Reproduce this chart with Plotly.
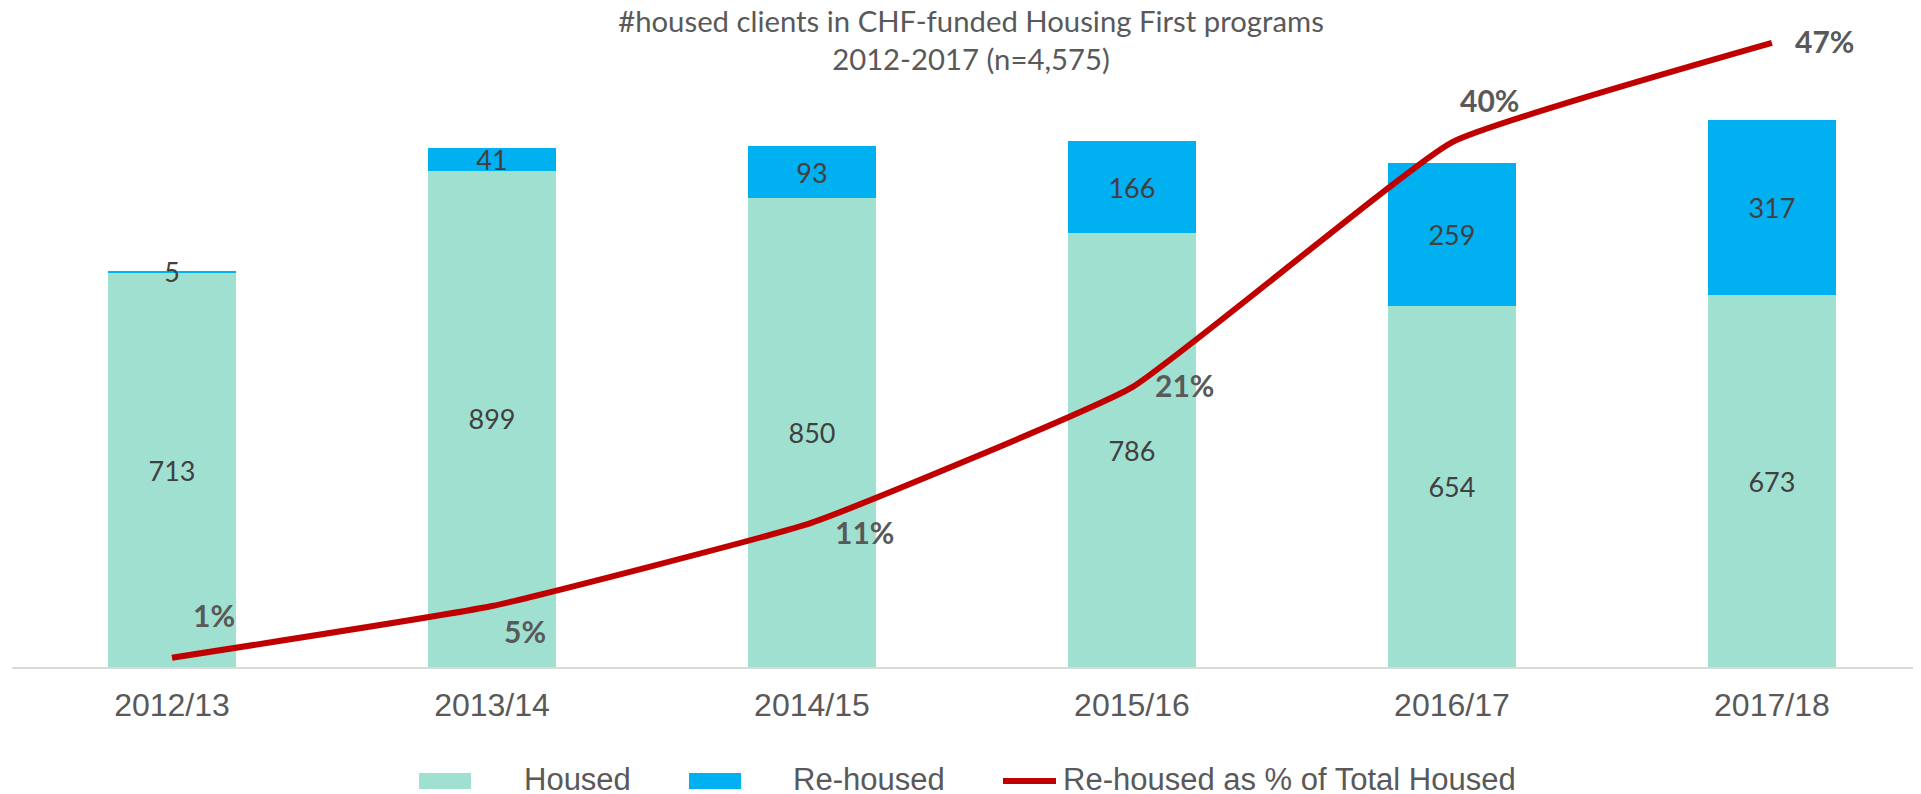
import plotly.graph_objects as go

# ---- data ----
categories = ["2012/13", "2013/14", "2014/15", "2015/16", "2016/17", "2017/18"]
housed = [713, 899, 850, 786, 654, 673]
rehoused = [5, 41, 93, 166, 259, 317]
rehoused_pct = [0.007, 0.046, 0.109, 0.211, 0.396, 0.471]
pct_labels = ["1%", "5%", "11%", "21%", "40%", "47%"]

title_text = "#housed clients in CHF-funded Housing First programs<br>2012-2017 (n=4,575)"
legend_names = ["Housed", "Re-housed", "Re-housed as % of Total Housed"]

# ---- style ----
C_HOUSED = "#A0E0D1"
C_REHOUSED = "#00B0F0"
C_LINE = "#C00000"
C_TEXT = "#595959"
C_VAL = "#404040"
CAL = "Lato, Carlito, Calibri, sans-serif"
ARIAL = "Liberation Sans, Arial, sans-serif"
# label offsets (px) for the percentage labels, as placed in the source chart
pct_offsets = [(42, 43), (33, -25), (53, -9), (53, 2), (38, 42), (53, 2)]

OFF = 8                     # page body margin
W, H = 1921 - OFF, 794 - OFF
ML, MR, MT, MB = 12 - OFF, 0, 0, 794 - 667
PW = W - ML - MR
PH = H - MT - MB
UNIT_PX = 662.5 / 1200      # px per bar unit
Y1_TOP = PH / UNIT_PX
Y2_TOP = Y1_TOP / 1200 * 0.5

fig = go.Figure()
fig.add_trace(go.Bar(
    x=categories, y=housed, name=legend_names[0], marker_color=C_HOUSED,
    marker_line_width=0, text=[str(v) for v in housed], textposition="inside",
    insidetextanchor="middle", textangle=0,
    textfont=dict(family=CAL, size=27, color=C_VAL), showlegend=False,
))
fig.add_trace(go.Bar(
    x=categories, y=rehoused, name=legend_names[1], marker_color=C_REHOUSED,
    marker_line_width=0, text=[str(v) for v in rehoused], textposition="inside",
    insidetextanchor="middle", textangle=0,
    textfont=dict(family=CAL, size=27, color=C_VAL), showlegend=False,
))
fig.add_trace(go.Scatter(
    x=categories, y=rehoused_pct, name=legend_names[2], yaxis="y2", mode="lines",
    line=dict(color=C_LINE, width=6, shape="spline", smoothing=0.35),
    showlegend=False,
))

for cat, v, lab, (dx, dy) in zip(categories, rehoused_pct, pct_labels, pct_offsets):
    fig.add_annotation(x=cat, y=v, yref="y2", text=lab, showarrow=False,
                       xshift=dx, yshift=dy,
                       font=dict(family=CAL, size=30, color=C_TEXT, weight="bold"))

# ---- custom legend (Excel-like wide swatches), positions in page pixels ----
def px_x(p):
    return (p - OFF - ML) / PW

def px_y(p):
    return (H - MB - (p - OFF)) / PH

leg_y = 781
leg_text_y = 779.5
swatches = [(419, 471, C_HOUSED, 522), (689, 741, C_REHOUSED, 791)]
for (x0, x1, col, tx), name in zip(swatches, legend_names[:2]):
    fig.add_shape(type="rect", xref="paper", yref="paper",
                  x0=px_x(x0), x1=px_x(x1), y0=px_y(leg_y + 8), y1=px_y(leg_y - 8),
                  fillcolor=col, line_width=0)
    fig.add_annotation(xref="paper", yref="paper", x=px_x(tx), y=px_y(leg_text_y),
                       xanchor="left", yanchor="middle", text=name, showarrow=False,
                       font=dict(family=ARIAL, size=31, color=C_TEXT))
fig.add_shape(type="line", xref="paper", yref="paper",
              x0=px_x(1003), x1=px_x(1056), y0=px_y(leg_y), y1=px_y(leg_y),
              line=dict(color=C_LINE, width=6))
fig.add_annotation(xref="paper", yref="paper", x=px_x(1061), y=px_y(leg_text_y),
                   xanchor="left", yanchor="middle", text=legend_names[2], showarrow=False,
                   font=dict(family=ARIAL, size=31, color=C_TEXT))

fig.update_layout(
    width=W, height=H,
    margin=dict(l=ML, r=MR, t=MT, b=MB, pad=0),
    paper_bgcolor="white", plot_bgcolor="white",
    barmode="stack", bargap=0.6,
    title=dict(text=title_text, x=(971 - OFF) / W, xanchor="center",
               y=1 - 24 / H, yanchor="middle",
               xref="container", yref="container",
               font=dict(family=CAL, size=29.3, color=C_TEXT)),
    xaxis=dict(range=[-0.5, 5.466], showline=True, linecolor="#D9D9D9", linewidth=1.5,
               ticks="", showgrid=False, zeroline=False, ticklabelstandoff=9,
               tickfont=dict(family=ARIAL, size=32, color=C_TEXT)),
    yaxis=dict(range=[0, Y1_TOP], visible=False, showgrid=False, zeroline=False),
    yaxis2=dict(range=[0, Y2_TOP], overlaying="y", side="right", visible=False,
                showgrid=False, zeroline=False),
    uniformtext=dict(minsize=27, mode="show"),
    showlegend=False,
)

fig.write_html("out.html")
